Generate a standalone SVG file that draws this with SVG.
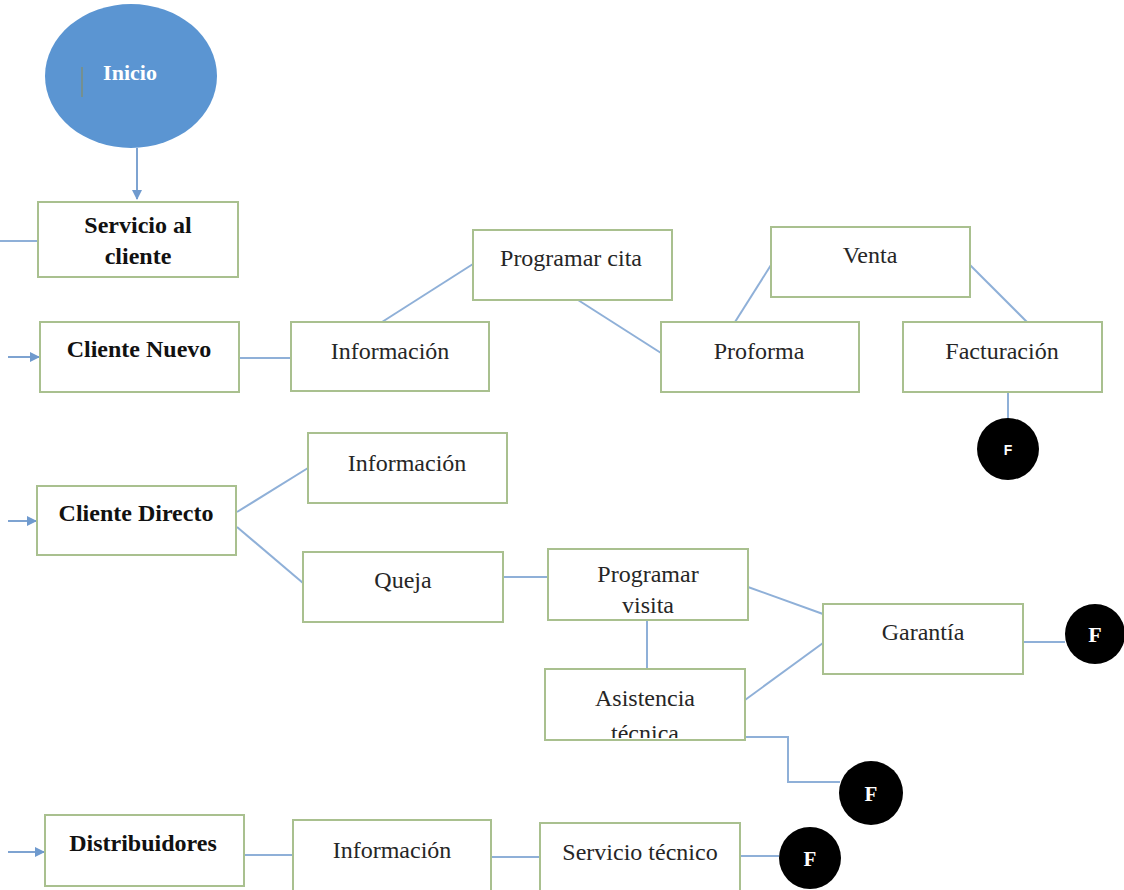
<svg xmlns="http://www.w3.org/2000/svg" width="1124" height="890" viewBox="0 0 1124 890">
<style>
.box{fill:#fff;stroke:#a9c08f;stroke-width:2}
.t{font-family:"Liberation Serif","Times New Roman",serif;font-size:24px;fill:#262626;text-anchor:middle}
.b{font-weight:bold;fill:#111}
.c{fill:none;stroke:#8fb0d8;stroke-width:2}
.a{fill:none;stroke:#7ea3d1;stroke-width:2}
.end{fill:#000}
.ft{font-family:"Liberation Serif","Times New Roman",serif;font-weight:bold;fill:#fff;text-anchor:middle}
</style>
<defs>
<marker id="arr" viewBox="0 0 10 10" refX="9" refY="5" markerWidth="5" markerHeight="5" orient="auto">
<path d="M0,0 L10,5 L0,10 z" fill="#6f9ace"/>
</marker>
<clipPath id="clipAT"><rect x="545" y="669" width="200" height="69"/></clipPath>
</defs>
<rect width="1124" height="890" fill="#fff"/>

<g id="connectors">
<line class="a" x1="137" y1="148" x2="137" y2="199" marker-end="url(#arr)"/>
<line class="c" x1="0" y1="241" x2="38" y2="241"/>
<line class="a" x1="8" y1="357" x2="39" y2="357" marker-end="url(#arr)"/>
<line class="a" x1="8" y1="521" x2="36" y2="521" marker-end="url(#arr)"/>
<line class="a" x1="8" y1="852" x2="44" y2="852" marker-end="url(#arr)"/>
<line class="c" x1="239" y1="358" x2="291" y2="358"/>
<line class="c" x1="382" y1="322" x2="473" y2="264"/>
<line class="c" x1="578" y1="300" x2="661" y2="353"/>
<line class="c" x1="735" y1="322" x2="771" y2="265"/>
<line class="c" x1="970" y1="265" x2="1027" y2="322"/>
<line class="c" x1="1008" y1="392" x2="1008" y2="418"/>
<line class="c" x1="237" y1="512" x2="308" y2="468"/>
<line class="c" x1="237" y1="527" x2="303" y2="583"/>
<line class="c" x1="503" y1="577" x2="548" y2="577"/>
<line class="c" x1="647" y1="620" x2="647" y2="669"/>
<line class="c" x1="748" y1="587" x2="823" y2="614"/>
<line class="c" x1="745" y1="700" x2="823" y2="643"/>
<line class="c" x1="1023" y1="642" x2="1065" y2="642"/>
<polyline class="c" points="745,737 788,737 788,782 840,782"/>
<line class="c" x1="244" y1="855" x2="293" y2="855"/>
<line class="c" x1="491" y1="857" x2="540" y2="857"/>
<line class="c" x1="740" y1="856" x2="779" y2="856"/>
</g>

<g id="inicio">
<ellipse cx="131" cy="76" rx="86" ry="72" fill="#5b95d2"/>
<line x1="82" y1="67" x2="82" y2="97" stroke="#7d8f7a" stroke-width="1.5"/>
<text class="ft" x="130" y="80" font-size="22">Inicio</text>
</g>

<g id="servicio-cliente">
<rect class="box" x="38" y="202" width="200" height="75"/>
<text class="t b" x="138" y="233">Servicio al</text>
<text class="t b" x="138" y="264">cliente</text>
</g>

<g id="cliente-nuevo">
<rect class="box" x="40" y="322" width="199" height="70"/>
<text class="t b" x="139" y="357">Cliente Nuevo</text>
</g>

<g id="info-1">
<rect class="box" x="291" y="322" width="198" height="69"/>
<text class="t" x="390" y="359">Información</text>
</g>

<g id="programar-cita">
<rect class="box" x="473" y="230" width="199" height="70"/>
<text class="t" x="571" y="266">Programar cita</text>
</g>

<g id="proforma">
<rect class="box" x="661" y="322" width="198" height="70"/>
<text class="t" x="759" y="359">Proforma</text>
</g>

<g id="venta">
<rect class="box" x="771" y="227" width="199" height="70"/>
<text class="t" x="870" y="263">Venta</text>
</g>

<g id="facturacion">
<rect class="box" x="903" y="322" width="199" height="70"/>
<text class="t" x="1002" y="359">Facturación</text>
</g>

<g id="fin-1">
<circle class="end" cx="1008" cy="449" r="31"/>
<text x="1008" y="455" font-family="Liberation Sans, Arial, sans-serif" font-weight="bold" font-size="14" fill="#fff" text-anchor="middle">F</text>
</g>

<g id="cliente-directo">
<rect class="box" x="37" y="486" width="199" height="69"/>
<text class="t b" x="136" y="521">Cliente Directo</text>
</g>

<g id="info-2">
<rect class="box" x="308" y="433" width="199" height="70"/>
<text class="t" x="407" y="471">Información</text>
</g>

<g id="queja">
<rect class="box" x="303" y="552" width="200" height="70"/>
<text class="t" x="403" y="588">Queja</text>
</g>

<g id="programar-visita">
<rect class="box" x="548" y="549" width="200" height="71"/>
<text class="t" x="648" y="582">Programar</text>
<text class="t" x="648" y="613">visita</text>
</g>

<g id="asistencia">
<rect class="box" x="545" y="669" width="200" height="71"/>
<text class="t" x="645" y="706">Asistencia</text>
<text class="t" x="645" y="741" clip-path="url(#clipAT)">técnica</text>
</g>

<g id="garantia">
<rect class="box" x="823" y="604" width="200" height="70"/>
<text class="t" x="923" y="640">Garantía</text>
</g>

<g id="fin-2">
<circle class="end" cx="1095" cy="634" r="30"/>
<text class="ft" x="1095" y="642" font-size="22">F</text>
</g>

<g id="fin-3">
<circle class="end" cx="871" cy="793" r="32"/>
<text class="ft" x="871" y="801" font-size="21">F</text>
</g>

<g id="distribuidores">
<rect class="box" x="45" y="815" width="199" height="71"/>
<text class="t b" x="143" y="851">Distribuidores</text>
</g>

<g id="info-3">
<rect class="box" x="293" y="820" width="198" height="72"/>
<text class="t" x="392" y="858">Información</text>
</g>

<g id="servicio-tecnico">
<rect class="box" x="540" y="823" width="200" height="70"/>
<text class="t" x="640" y="860">Servicio técnico</text>
</g>

<g id="fin-4">
<circle class="end" cx="810" cy="858" r="31"/>
<text class="ft" x="810" y="866" font-size="21">F</text>
</g>
</svg>
